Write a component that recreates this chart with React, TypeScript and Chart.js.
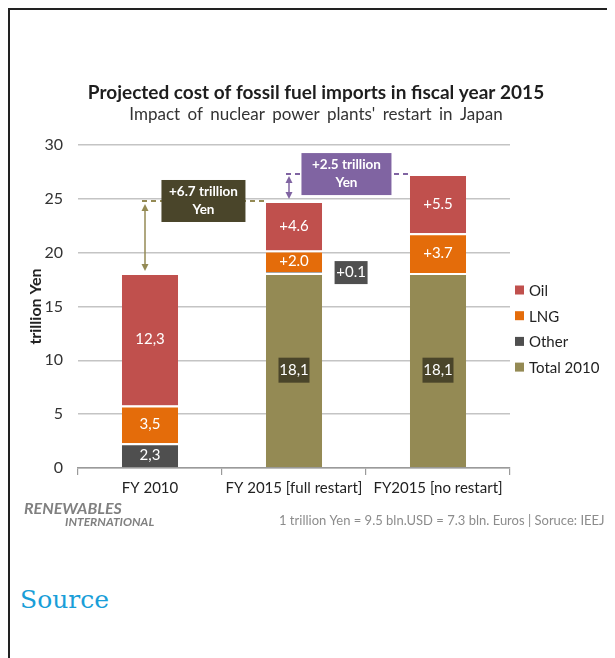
import React, { useEffect, useRef } from 'react';
import { Chart, registerables } from 'chart.js';

Chart.register(...registerables);

// ---------- data ----------
const categories = ['FY 2010', 'FY 2015 [full restart]', 'FY2015 [no restart]'];
const total2010 = [0, 18.1, 18.1];
const other = [2.3, 0.1, 0];
const lng = [3.5, 2.0, 3.7];
const oil = [12.3, 4.6, 5.5];

const total2010Labels = ['', '18,1', '18,1'];
const otherLabels = ['2,3', '+0.1', ''];
const lngLabels = ['3,5', '+2.0', '+3.7'];
const oilLabels = ['12,3', '+4.6', '+5.5'];

const increase1Lines = ['+6.7 trillion', 'Yen'];
const increase2Lines = ['+2.5 trillion', 'Yen'];

const yMin = 0;
const yMax = 30;
const yStep = 5;

const titleText = 'Projected cost of fossil fuel imports in fiscal year 2015';
const subtitleText = "Impact of nuclear power plants' restart in Japan";
const yTitle = 'trillion Yen';
const brand1 = 'RENEWABLES';
const brand2 = 'INTERNATIONAL';
const noteText = '1 trillion Yen = 9.5 bln.USD = 7.3 bln. Euros | Soruce: IEEJ';

// ---------- styles ----------
const FONT = 'Lato, "Open Sans", sans-serif';
const C_OIL = '#c0504d';
const C_LNG = '#e46c0a';
const C_OTHER = '#4f4f4f';
const C_TOTAL = '#948a54';
const C_DARK = '#4a452a';
const C_PURPLE = '#8064a2';

const labelSets = [total2010Labels, otherLabels, lngLabels, oilLabels];

function drawArrow(ctx: CanvasRenderingContext2D, x: number, y1: number, y2: number, color: string) {
  ctx.save();
  ctx.strokeStyle = color;
  ctx.fillStyle = color;
  ctx.lineWidth = 1.5;
  ctx.setLineDash([]);
  ctx.beginPath();
  ctx.moveTo(x, y1 + 4);
  ctx.lineTo(x, y2 - 4);
  ctx.stroke();
  ctx.beginPath();
  ctx.moveTo(x, y1);
  ctx.lineTo(x - 3.5, y1 + 7);
  ctx.lineTo(x + 3.5, y1 + 7);
  ctx.closePath();
  ctx.fill();
  ctx.beginPath();
  ctx.moveTo(x, y2);
  ctx.lineTo(x - 3.5, y2 - 7);
  ctx.lineTo(x + 3.5, y2 - 7);
  ctx.closePath();
  ctx.fill();
  ctx.restore();
}

function drawBoxText(ctx: CanvasRenderingContext2D, cx: number, cy: number, w: number, h: number, bg: string, lines: string[], font: string, lh: number) {
  ctx.save();
  ctx.fillStyle = bg;
  ctx.fillRect(cx - w / 2, cy - h / 2, w, h);
  ctx.fillStyle = '#ffffff';
  ctx.font = font;
  ctx.textAlign = 'center';
  ctx.textBaseline = 'middle';
  const start = cy - ((lines.length - 1) * lh) / 2;
  lines.forEach((l, i) => ctx.fillText(l, cx, start + i * lh));
  ctx.restore();
}

const overlayPlugin = {
  id: 'overlay',
  afterDatasetsDraw(chart: any) {
    const ctx: CanvasRenderingContext2D = chart.ctx;
    const ys = chart.scales.y;
    const totals = categories.map((_, i) => total2010[i] + other[i] + lng[i] + oil[i]);

    chart.data.datasets.forEach((ds: any, di: number) => {
      const meta = chart.getDatasetMeta(di);
      meta.data.forEach((bar: any, i: number) => {
        const txt = labelSets[di][i];
        if (!txt) return;
        const p = bar.getProps(['x', 'y', 'base', 'width'], true);
        const cy = (p.y + p.base) / 2;
        if (di === 0) {
          drawBoxText(ctx, p.x, cy, 31, 25, C_DARK, [txt], `15px ${FONT}`, 16);
        } else if (di === 1 && i === 1) {
          drawBoxText(ctx, p.x + p.width / 2 + 29, cy, 33, 23, C_OTHER, [txt], `15px ${FONT}`, 16);
        } else {
          ctx.save();
          ctx.fillStyle = '#ffffff';
          ctx.font = `15px ${FONT}`;
          ctx.textAlign = 'center';
          ctx.textBaseline = 'middle';
          ctx.fillText(txt, p.x, cy);
          ctx.restore();
        }
      });
    });

    const m0 = chart.getDatasetMeta(0);
    const b0 = m0.data[0].getProps(['x', 'width'], true);
    const b1 = m0.data[1].getProps(['x', 'width'], true);
    const b2 = m0.data[2].getProps(['x', 'width'], true);

    {
      const ax = b0.x - 5;
      const yTop = ys.getPixelForValue(totals[1]);
      const yBot = ys.getPixelForValue(totals[0]);
      const right = b1.x - b1.width / 2;
      ctx.save();
      ctx.strokeStyle = C_TOTAL;
      ctx.lineWidth = 2;
      ctx.setLineDash([5, 4]);
      ctx.beginPath();
      ctx.moveTo(ax - 3, yTop);
      ctx.lineTo(right, yTop);
      ctx.stroke();
      ctx.restore();
      drawArrow(ctx, ax, yTop + 3, yBot - 2, C_TOTAL);
      drawBoxText(ctx, (ax + right) / 2 - 2, yTop, 84, 42, C_DARK, increase1Lines, `bold 13.5px ${FONT}`, 18);
    }
    {
      const ax = b1.x - 5;
      const yTop = ys.getPixelForValue(totals[2]);
      const yBot = ys.getPixelForValue(totals[1]);
      const right = b2.x - b2.width / 2;
      ctx.save();
      ctx.strokeStyle = C_PURPLE;
      ctx.lineWidth = 2;
      ctx.setLineDash([5, 4]);
      ctx.beginPath();
      ctx.moveTo(ax - 3, yTop);
      ctx.lineTo(right, yTop);
      ctx.stroke();
      ctx.restore();
      drawArrow(ctx, ax, yTop + 2, yBot - 2, C_PURPLE);
      drawBoxText(ctx, (ax + right) / 2 - 3, yTop, 90, 42, C_PURPLE, increase2Lines, `bold 13.5px ${FONT}`, 18);
    }
  },
  afterDraw(chart: any) {
    const ctx: any = chart.ctx;
    ctx.save();
    ctx.fillStyle = '#1e1e1e';
    ctx.textAlign = 'center';
    ctx.textBaseline = 'middle';
    ctx.font = `bold 19px ${FONT}`;
    ctx.fillText(titleText, 306, 83);
    ctx.fillStyle = '#333333';
    ctx.font = `17px ${FONT}`;
    try { ctx.wordSpacing = '3px'; } catch (e) { /* ignore */ }
    ctx.fillText(subtitleText, 306, 105);
    try { ctx.wordSpacing = '0px'; } catch (e) { /* ignore */ }

    const order = [3, 2, 1, 0];
    ctx.textAlign = 'left';
    ctx.font = `15px ${FONT}`;
    order.forEach((di, k) => {
      const ds = chart.data.datasets[di];
      const cy = 280 + k * 25.7;
      ctx.fillStyle = ds.backgroundColor;
      ctx.fillRect(505, cy - 4.5, 9, 9);
      ctx.fillStyle = '#222222';
      ctx.fillText(ds.label, 519, cy + 1);
    });

    ctx.fillStyle = '#808080';
    ctx.font = `italic bold 16px ${FONT}`;
    ctx.fillText(brand1, 14, 499);
    ctx.font = `italic bold 12px ${FONT}`;
    ctx.fillText(brand2, 55, 512);
    ctx.fillStyle = '#8c8c8c';
    ctx.font = `13px ${FONT}`;
    ctx.fillText(noteText, 269, 511);
    ctx.restore();
  },
};

export default function App() {
  const ref = useRef<HTMLCanvasElement>(null);
  useEffect(() => {
    if (!ref.current) return;
    const border = { top: 2, right: 0, bottom: 0, left: 0 };
    const chart = new Chart(ref.current, {
      type: 'bar',
      data: {
        labels: categories,
        datasets: [
          { label: 'Total 2010', data: total2010, backgroundColor: C_TOTAL, borderColor: '#ffffff', borderWidth: border, borderSkipped: false },
          { label: 'Other', data: other, backgroundColor: C_OTHER, borderColor: '#ffffff', borderWidth: border, borderSkipped: false },
          { label: 'LNG', data: lng, backgroundColor: C_LNG, borderColor: '#ffffff', borderWidth: border, borderSkipped: false },
          { label: 'Oil', data: oil, backgroundColor: C_OIL, borderColor: '#ffffff', borderWidth: border, borderSkipped: false },
        ],
      },
      options: {
        responsive: false,
        animation: false,
        events: [],
        layout: { padding: { top: 135, right: 100, bottom: 42, left: 0 } },
        datasets: { bar: { categoryPercentage: 1, barPercentage: 0.39 } },
        plugins: {
          legend: { display: false },
          title: { display: false },
          tooltip: { enabled: false },
        },
        scales: {
          x: {
            stacked: true,
            afterFit: (s: any) => { s.height = 30; },
            grid: { offset: true, drawOnChartArea: false, drawTicks: true, tickLength: 7, color: '#9a9a9a', lineWidth: 1.2 },
            border: { display: true, color: '#9a9a9a', width: 1.5 },
            ticks: { color: '#222222', font: { family: FONT, size: 15 }, padding: 4, maxRotation: 0, autoSkip: false },
          },
          y: {
            stacked: true,
            min: yMin,
            max: yMax,
            afterFit: (s: any) => { s.width = 68; },
            grid: { color: '#c4c4c4', lineWidth: 1.5, drawTicks: false },
            border: { display: false },
            ticks: { stepSize: yStep, color: '#333333', font: { family: FONT, size: 16 }, padding: 15 },
            title: { display: true, text: yTitle, color: '#222222', font: { family: FONT, size: 16, weight: 'bold' }, padding: { top: 16, bottom: 0 } },
          },
        },
      },
      plugins: [overlayPlugin],
    } as any);
    return () => chart.destroy();
  }, []);

  return (
    <div
      style={{
        position: 'relative',
        borderTop: '2px solid #222',
        borderLeft: '2px solid #222',
        height: 660,
        marginRight: -8,
      }}
    >
      <style>{'body{overflow:hidden}'}</style>
      <canvas ref={ref} width={600} height={530} style={{ display: 'block' }} />
      <div
        style={{
          position: 'absolute',
          left: 10,
          top: 575,
          font: '25px "DejaVu Serif", serif',
          color: '#199ed8',
          whiteSpace: 'nowrap',
        }}
      >
        Source
      </div>
    </div>
  );
}
